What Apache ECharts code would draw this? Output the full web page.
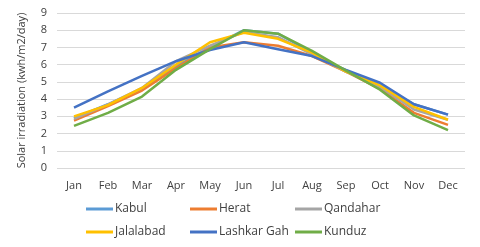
<!DOCTYPE html>
<html><head><meta charset="utf-8">
<script src="https://cdn.jsdelivr.net/npm/echarts@6/dist/echarts.min.js"></script>
<style>html,body{margin:0;padding:0;background:#fff}#c{width:480px;height:247px}</style>
</head><body><div id="c"></div>
<script>
const months = ['Jan','Feb','Mar','Apr','May','Jun','Jul','Aug','Sep','Oct','Nov','Dec'];
const yTicks = [0,1,2,3,4,5,6,7,8,9];
const kabul     = [2.9, 3.7, 4.6, 5.9, 7.0, 8.0, 7.8, 6.7, 5.6, 4.8, 3.7, 3.1];
const herat     = [2.75, 3.6, 4.5, 5.8, 7.0, 7.3, 7.1, 6.5, 5.6, 4.6, 3.2, 2.5];
const qandahar  = [2.85, 3.7, 4.65, 6.2, 7.1, 7.9, 7.6, 6.6, 5.6, 4.7, 3.4, 2.8];
const jalalabad = [3.0, 3.65, 4.65, 6.0, 7.3, 7.85, 7.5, 6.7, 5.6, 4.8, 3.55, 2.8];
const lashkar   = [3.5, 4.45, 5.35, 6.2, 6.85, 7.3, 6.9, 6.5, 5.7, 4.95, 3.7, 3.1];
const kunduz    = [2.45, 3.2, 4.15, 5.7, 6.9, 8.0, 7.8, 6.8, 5.65, 4.55, 3.05, 2.2];

const seriesDefs = [
  {name:'Kabul', data:kabul, color:'#5B9BD5', lx:86, ly:203},
  {name:'Herat', data:herat, color:'#ED7D31', lx:190, ly:203},
  {name:'Qandahar', data:qandahar, color:'#A5A5A5', lx:295, ly:203},
  {name:'Jalalabad', data:jalalabad, color:'#FFC000', lx:86, ly:226},
  {name:'Lashkar Gah', data:lashkar, color:'#4472C4', lx:190, ly:226},
  {name:'Kunduz', data:kunduz, color:'#70AD47', lx:295, ly:226}
];
const font = 'Open Sans, Liberation Sans, sans-serif';
const chart = echarts.init(document.getElementById('c'));
chart.setOption({
  animation:false,
  textStyle:{fontFamily:font},
  grid:{left:57,right:15,top:13,bottom:79},
  legend: seriesDefs.map(s=>({
    show:true, orient:'horizontal',
    data:[s.name], left:s.lx, top:s.ly, itemWidth:27, itemHeight:3, itemGap:0, padding:0,
    icon:'rect',
    textStyle:{fontFamily:font,fontSize:12,color:'#404040',padding:[0,0,0,-3]}
  })),
  xAxis:{type:'category',data:months,boundaryGap:true,
    axisLine:{show:false},axisTick:{show:false},
    axisLabel:{fontSize:11,color:'#404040',margin:12,fontFamily:font}},
  yAxis:{type:'value',min:0,max:9,interval:1,
    name:'Solar irradiation (kwh/m2/day)',nameLocation:'middle',nameGap:30,
    nameTextStyle:{fontSize:11,color:'#404040',fontFamily:font},
    axisLabel:{fontSize:11,color:'#404040',margin:10,fontFamily:font},
    splitLine:{lineStyle:{color:'#D9D9D9'}}},
  series: seriesDefs.map(s=>({
    name:s.name,type:'line',data:s.data,symbol:'none',
    lineStyle:{width:2.5,color:s.color},itemStyle:{color:s.color}
  }))
});
</script></body></html>
